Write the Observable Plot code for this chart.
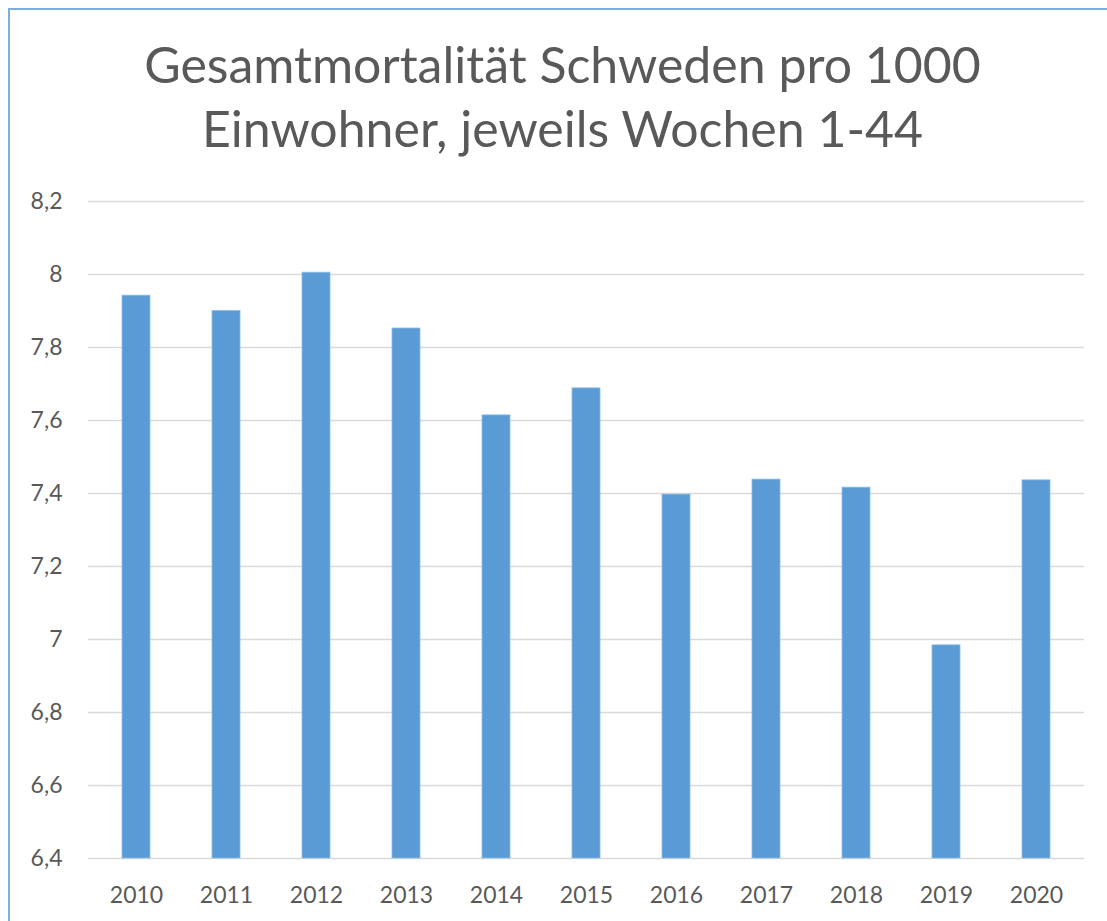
<!DOCTYPE html>
<html>
<head>
<meta charset="utf-8">
<script src="https://cdn.jsdelivr.net/npm/d3@7"></script>
<script src="https://cdn.jsdelivr.net/npm/@observablehq/plot@0.6"></script>
<style>
  html, body { margin: 0; padding: 0; background: #fff; }
  #frame { position: absolute; left: 8px; top: 8px; width: 1099px; height: 913px; z-index: 2;
           border-top: 2px solid #7eaedc; border-left: 2px solid #7eaedc; box-sizing: border-box; pointer-events: none; }
  #title { position: absolute; left: 0; top: 32px; width: 1125px; text-align: center;
           font-family: Lato, "Open Sans", sans-serif; font-size: 50px; line-height: 64px; color: #595959; }
  #chart { position: absolute; left: 0; top: 170px; }
</style>
</head>
<body>
<div id="frame"></div>
<div id="title">Gesamtmortalität Schweden pro 1000<br>Einwohner, jeweils Wochen 1-44</div>
<div id="chart"></div>
<script>
const years = ["2010","2011","2012","2013","2014","2015","2016","2017","2018","2019","2020"];
const values = [7.942, 7.900, 8.005, 7.852, 7.614, 7.688, 7.397, 7.438, 7.416, 6.984, 7.436];
const yTicks = [6.4, 6.6, 6.8, 7.0, 7.2, 7.4, 7.6, 7.8, 8.0, 8.2];

const data = years.map((y, i) => ({year: y, value: values[i]}));
const fmt = d => String(+d.toFixed(1)).replace(".", ",");

const chart = Plot.plot({
  width: 1107,
  height: 750,
  marginTop: 31,
  marginBottom: 62,
  marginLeft: 88,
  marginRight: 23,
  style: {fontFamily: "Lato, 'Open Sans', sans-serif", fontSize: "23px", color: "#595959", background: "transparent"},
  x: {domain: years, paddingInner: 0.69, paddingOuter: 0.345, label: null, tickSize: 0, tickPadding: 28},
  y: {domain: [6.4, 8.2], ticks: yTicks, tickFormat: fmt, label: null, tickSize: 0, tickPadding: 26},
  marks: [
    Plot.ruleY(yTicks, {stroke: "#d9d9d9", strokeWidth: 1.6}),
    Plot.barY(data, {x: "year", y1: 6.4, y2: "value", fill: "#5b9bd5", stroke: "#8cbbe6", strokeWidth: 0.8})
  ]
});
document.getElementById("chart").appendChild(chart);
</script>
</body>
</html>
